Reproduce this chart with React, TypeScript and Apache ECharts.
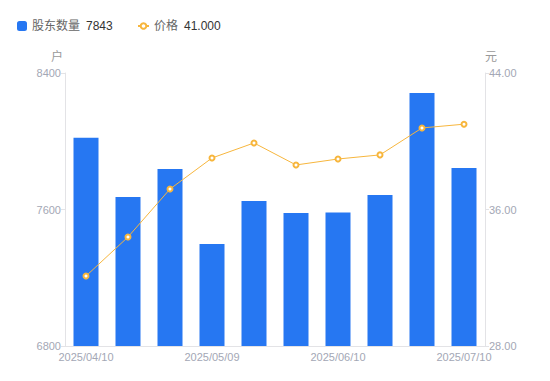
import React, { useEffect, useRef } from "react";
import * as echarts from "echarts";

const categories = [
  "2025/04/10", "2025/04/20", "2025/04/30", "2025/05/09", "2025/05/20",
  "2025/05/30", "2025/06/10", "2025/06/20", "2025/06/30", "2025/07/10",
];
const holders = [8020, 7673, 7837, 7398, 7650, 7580, 7582, 7685, 8283, 7843];
const prices = [32.1, 34.39, 37.2, 39.02, 39.9, 38.61, 38.96, 39.2, 40.78, 41.0];
const leftTicks = { min: 6800, max: 8400, interval: 800 };
const rightTicks = { min: 28, max: 44, interval: 8 };

export default function App() {
  const ref = useRef<HTMLDivElement>(null);
  useEffect(() => {
    if (!ref.current) return;
    const chart = echarts.init(ref.current, null, { renderer: "svg" });
    const latest: Record<string, string> = {
      "股东数量": String(holders[holders.length - 1]),
      "价格": prices[prices.length - 1].toFixed(3),
    };
    const labelColor = "#a3a7b5";
    const font = "Liberation Sans, Noto Sans CJK SC, sans-serif";
    const legendText = {
      rich: {
        n: { color: "#666", fontSize: 12, fontFamily: font },
        v: { color: "#333", fontSize: 12, fontFamily: font, padding: [0, 0, 0, 6] },
      },
    };
    const fmt = (name: string) => `{n|${name}}{v|${latest[name]}}`;
    chart.setOption({
      animation: false,
      textStyle: { fontFamily: font },
      legend: [
        {
          left: 12,
          top: 15,
          itemWidth: 10,
          itemHeight: 10,
          data: [{ name: "股东数量", icon: "roundRect" }],
          formatter: fmt,
          textStyle: legendText,
        },
        {
          left: 132,
          top: 15,
          itemWidth: 11,
          itemHeight: 7,
          data: [{ name: "价格" }],
          formatter: fmt,
          textStyle: legendText,
        },
      ],
      grid: { left: 65, right: 65, top: 73, bottom: 35 },
      xAxis: {
        type: "category",
        data: categories,
        axisLine: { lineStyle: { color: "#e3e3e6" } },
        axisTick: { show: false },
        axisLabel: { interval: 2, color: labelColor, fontSize: 11, margin: 5 },
      },
      yAxis: [
        {
          type: "value",
          name: "户",
          nameGap: 10,
          nameTextStyle: { color: "#999", fontSize: 12, align: "right", padding: [0, 2, 0, 0] },
          ...leftTicks,
          axisLine: { show: true, lineStyle: { color: "#e3e3e6" } },
          axisTick: { show: true, length: 4, lineStyle: { color: "#e3e3e6" } },
          splitLine: { show: false },
          axisLabel: { color: labelColor, fontSize: 11, margin: 4, formatter: (v: number) => String(v) },
        },
        {
          type: "value",
          name: "元",
          nameGap: 10,
          nameTextStyle: { color: "#999", fontSize: 12, align: "left", padding: [0, 0, 0, 0] },
          ...rightTicks,
          axisLine: { show: true, lineStyle: { color: "#e3e3e6" } },
          axisTick: { show: true, length: 4, lineStyle: { color: "#e3e3e6" } },
          splitLine: { show: false },
          axisLabel: {
            color: labelColor,
            fontSize: 11,
            margin: 4,
            formatter: (v: number) => v.toFixed(2),
          },
        },
      ],
      series: [
        {
          name: "股东数量",
          type: "bar",
          data: holders,
          barWidth: 25,
          itemStyle: { color: "#2677f2" },
        },
        {
          name: "价格",
          type: "line",
          yAxisIndex: 1,
          data: prices,
          symbol: "emptyCircle",
          symbolSize: 5,
          lineStyle: { color: "#f7b63d", width: 1 },
          itemStyle: { color: "#f7b63d", borderWidth: 2 },
        },
      ],
    });
    return () => chart.dispose();
  }, []);
  return (
    <div
      ref={ref}
      style={{ position: "absolute", left: 0, top: 0, width: 550, height: 381 }}
    />
  );
}
